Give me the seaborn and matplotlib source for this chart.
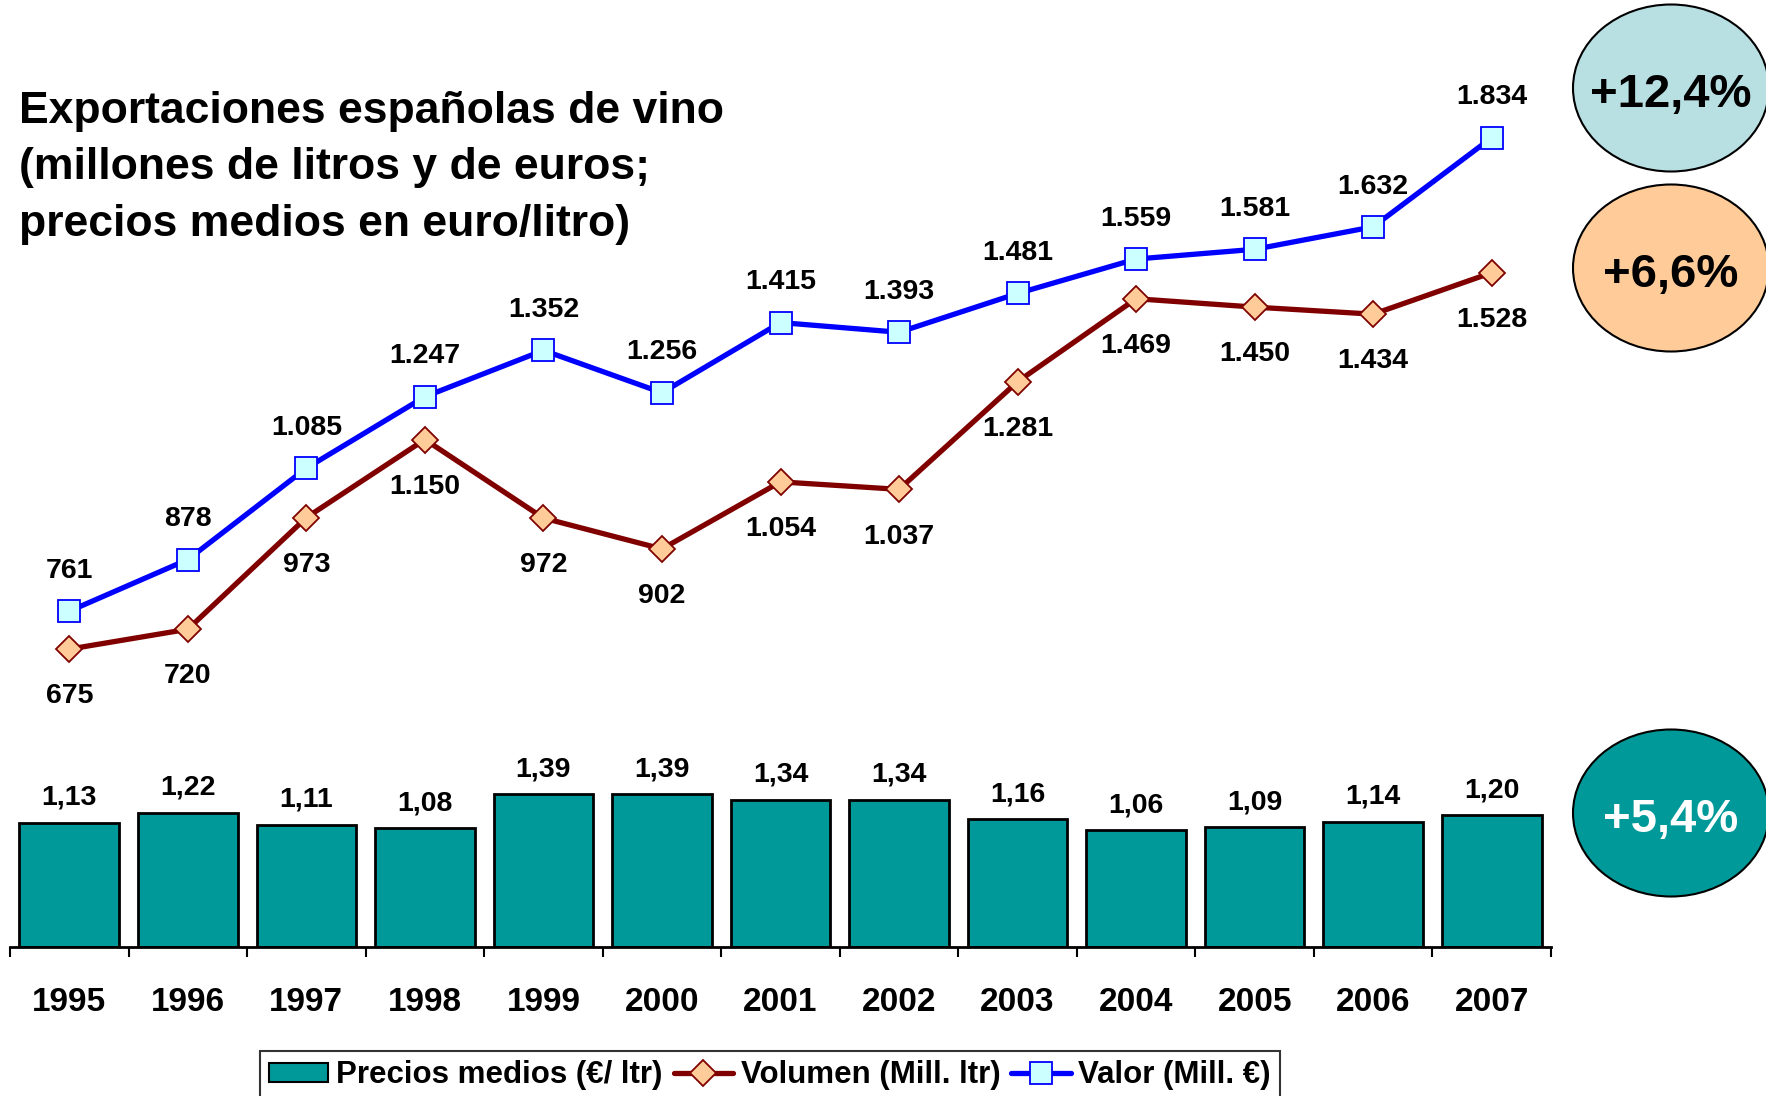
# Exportaciones españolas de vino 1995-2007
import numpy as np
import pandas as pd
import matplotlib
matplotlib.use('Agg')
import matplotlib.pyplot as plt
from matplotlib.patches import Ellipse, Patch
import seaborn as sns

# datos
years = ['1995', '1996', '1997', '1998', '1999', '2000', '2001',
         '2002', '2003', '2004', '2005', '2006', '2007']
precios = [1.13, 1.22, 1.11, 1.08, 1.39, 1.39, 1.34, 1.34, 1.16, 1.06, 1.09, 1.14, 1.20]
volumen = [675, 720, 973, 1150, 972, 902, 1054, 1037, 1281, 1469, 1450, 1434, 1528]
valor = [761, 878, 1085, 1247, 1352, 1256, 1415, 1393, 1481, 1559, 1581, 1632, 1834]
tasas = ['+12,4%', '+6,6%', '+5,4%']   # valor, volumen, precio

sns.set_theme(style='white')
plt.rcParams['font.family'] = ['Liberation Sans', 'DejaVu Sans']
plt.rcParams['font.weight'] = 'bold'
plt.rcParams['text.color'] = 'black'
plt.rcParams['xtick.color'] = 'black'
plt.rcParams['xtick.labelcolor'] = 'black'

W, H = 1766, 1096
fig = plt.figure(figsize=(W / 100, H / 100), dpi=100)

# ejes: barras abajo, lineas encima (misma linea base)
ax = fig.add_axes([10 / W, 149 / H, 1541 / W, 947 / H])
df = pd.DataFrame({'anio': years, 'precio': precios, 'volumen': volumen, 'valor': valor})

sns.barplot(data=df, x='anio', y='precio', color='#009999', saturation=1,
            edgecolor='black', linewidth=2, width=0.84, ax=ax)
ax.set_ylim(0, 947 / 110)

ax2 = ax.twinx()
sns.lineplot(data=df, x='anio', y='volumen', color='#800000', linewidth=3.8,
             marker='D', markersize=13, markerfacecolor='#FFCC99',
             markeredgecolor='#800000', markeredgewidth=1.3, ax=ax2)
sns.lineplot(data=df, x='anio', y='valor', color='#0000FF', linewidth=3.8,
             marker='s', markersize=16, markerfacecolor='#CCFFFF',
             markeredgecolor='#0000FF', markeredgewidth=1.3, ax=ax2)
ax2.set_ylim(0, 947 / 0.4413)
ax.set_xlim(-0.5, len(years) - 0.5)


def fmt_miles(v):
    return f'{v:,}'.replace(',', '.')


lbl = dict(ha='center', va='center', fontsize=20.5, fontweight='bold',
           textcoords='offset points', color='black')
for i in range(len(years)):
    ax.annotate(f'{precios[i]:.2f}'.replace('.', ','), (i, precios[i]), xytext=(0, 18), **lbl)
    ax2.annotate(fmt_miles(valor[i]), (i, valor[i]), xytext=(0, 29), **lbl)
    ax2.annotate(fmt_miles(volumen[i]), (i, volumen[i]), xytext=(0, -34), **lbl)

# eje x
ax.set_xticks(range(len(years)))
ax.set_xticklabels(years, fontsize=24, fontweight='bold', color='black')
ax.set_xticks(np.arange(-0.5, len(years), 1), minor=True)
ax.tick_params(axis='x', which='major', length=0, pad=29)
ax.tick_params(axis='x', which='minor', bottom=True, length=7, width=1.5,
               direction='out', color='black')
ax.set_xlabel('')
ax.set_ylabel('')
ax.set_yticks([])
ax2.set_yticks([])
ax2.set_xlabel('')
ax2.set_ylabel('')
for a in (ax, ax2):
    for s in ('top', 'left', 'right'):
        a.spines[s].set_visible(False)
    a.patch.set_visible(False)
ax.spines['bottom'].set_color('black')
ax.spines['bottom'].set_linewidth(2)
ax2.spines['bottom'].set_visible(False)

# titulo
fig.text(19 / W, 1 - 91 / H,
         'Exportaciones españolas de vino\n(millones de litros y de euros;\nprecios medios en euro/litro)',
         ha='left', va='top', fontsize=32, fontweight='bold', linespacing=1.48, color='black')

# leyenda
h_vol, h_val = ax2.get_lines()[0], ax2.get_lines()[1]
handles = [Patch(facecolor='#009999', edgecolor='black', linewidth=1.5), h_vol, h_val]
labels = ['Precios medios (€/ ltr)', 'Volumen (Mill. ltr)', 'Valor (Mill. €)']
leg = fig.legend(handles, labels, loc='upper center', bbox_to_anchor=(770 / W, 1 - 1051 / H),
                 ncol=3, frameon=True, fancybox=False, edgecolor='black',
                 prop={'weight': 'bold', 'size': 22.5}, handlelength=1.9, handleheight=0.55,
                 handletextpad=0.25, columnspacing=0.35, borderpad=0.3, borderaxespad=0)
leg.get_frame().set_linewidth(1.5)

# elipses con tasas de crecimiento
ov = fig.add_axes([0, 0, 1, 1])
ov.set_xlim(0, W)
ov.set_ylim(H, 0)
ov.axis('off')
ov.patch.set_visible(False)
elip = [(88, '#B8E0E3', 'black'), (268, '#FFCC99', 'black'), (813, '#009999', 'white')]
for (cy, fc, tc), t in zip(elip, tasas):
    ov.add_patch(Ellipse((1671, cy), 196, 167, facecolor=fc, edgecolor='black', linewidth=1.5))
    ov.text(1671, cy + 7, t, ha='center', va='center', fontsize=34, fontweight='bold', color=tc)

fig.savefig('out.png', dpi=100)
